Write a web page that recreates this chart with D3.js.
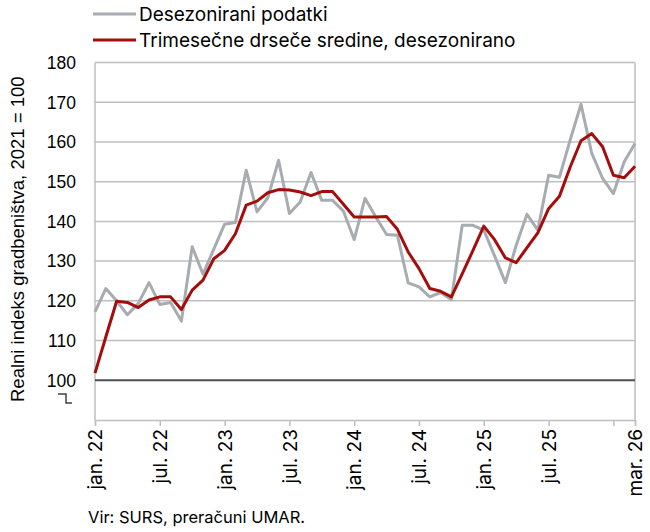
<!DOCTYPE html>
<html>
<head>
<meta charset="utf-8">
<script src="https://cdn.jsdelivr.net/npm/d3@7"></script>
<style>
  body { margin: 0; background: #fff; }
  svg text { fill: #000; }
</style>
</head>
<body>
<div id="chart"></div>
<script>
// monthly data, jan. 22 - mar. 26
var seriesNames = ["Desezonirani podatki", "Trimesečne drseče sredine, desezonirano"];

var desezonirani = [117.2, 123.1, 120.0, 116.5, 119.3, 124.6, 119.1, 119.6, 114.9, 133.6,
    126.7, 133.0, 139.3, 139.7, 152.9, 142.4, 145.9, 155.4, 142.0, 144.9,
    152.3, 145.3, 145.3, 142.6, 135.4, 145.8, 141.1, 136.7, 136.5, 124.5,
    123.5, 121.0, 122.1, 120.3, 139.0, 139.0, 137.8, 131.3, 124.6, 134.0,
    141.8, 137.8, 151.6, 151.1, 160.5, 169.5, 157.1, 150.8, 147.0, 155.0, 159.6];

var drsece = [101.8, 110.9, 119.9, 119.6, 118.3, 120.2, 121.0, 121.0, 117.8, 122.7,
    125.2, 130.6, 132.7, 136.9, 144.1, 145.1, 147.2, 148.0, 147.9, 147.4,
    146.5, 147.5, 147.5, 144.3, 141.1, 141.1, 141.1, 141.2, 138.0, 132.3,
    128.1, 123.1, 122.4, 121.0, 126.8, 132.7, 138.8, 135.4, 130.8, 129.6,
    133.4, 137.1, 143.2, 146.3, 153.7, 160.3, 162.1, 158.8, 151.6, 151.0, 153.9];

var monthNames = ["jan.", "feb.", "mar.", "apr.", "maj.", "jun.", "jul.", "avg.", "sep.", "okt.", "nov.", "dec."];
var months = d3.timeMonth.range(new Date(2022, 0, 1), new Date(2026, 3, 1));

// ticks every 6 months plus the last month; jan. 26 has a tick but no label
var tickMonths = ["jan. 22", "jul. 22", "jan. 23", "jul. 23", "jan. 24", "jul. 24", "jan. 25", "jul. 25", "jan. 26", "mar. 26"];
var hiddenLabels = ["jan. 26"];
var yTicks = [100, 110, 120, 130, 140, 150, 160, 170, 180];

function monthLabel(d) {
    return monthNames[d.getMonth()] + " " + String(d.getFullYear()).slice(2);
}

var W = 650, H = 532;
var margin = { top: 62.5, right: 15, bottom: 112, left: 95 },
    width = W - margin.left - margin.right,
    height = H - margin.top - margin.bottom;

var svg = d3.select("#chart").append("svg")
    .attr("width", W)
    .attr("height", H);

var g = svg.append("g")
    .attr("transform", "translate(" + margin.left + "," + margin.top + ")");

var x = d3.scalePoint()
    .domain(months.map(monthLabel))
    .range([0, width]);

var y = d3.scaleLinear()
    .domain([90, 180])
    .range([height, 0]);

// gridlines
g.selectAll(".grid")
    .data(yTicks.filter(function (d) { return d != 100; }))
    .enter().append("line")
    .attr("x1", 0).attr("x2", width)
    .attr("y1", function (d) { return y(d); })
    .attr("y2", function (d) { return y(d); })
    .style("stroke", "#bfbfbf")
    .style("stroke-width", 1.5);

// plot border left/right
g.append("line").attr("x1", 0).attr("x2", 0).attr("y1", 0).attr("y2", height)
    .style("stroke", "#bfbfbf").style("stroke-width", 1.5);
g.append("line").attr("x1", width).attr("x2", width).attr("y1", 0).attr("y2", height)
    .style("stroke", "#bfbfbf").style("stroke-width", 1.5);

// y labels
g.selectAll(".ylab")
    .data(yTicks)
    .enter().append("text")
    .attr("x", -19)
    .attr("y", function (d) { return y(d); })
    .attr("dy", "0.36em")
    .attr("text-anchor", "end")
    .style("font-family", "Liberation Sans, Arial, sans-serif")
    .style("font-size", "17.5px")
    .text(function (d) { return d; });

// axis break mark in place of 90
g.append("path")
    .attr("d", "M" + (-37) + "," + (y(90) - 26) + "h8v9h6")
    .style("fill", "none")
    .style("stroke", "#404040")
    .style("stroke-width", 1.5);

// x axis
var xAxis = g.append("g")
    .attr("transform", "translate(0," + height + ")")
    .call(d3.axisBottom(x)
        .tickValues(tickMonths)
        .tickFormat(function (d) { return hiddenLabels.indexOf(d) >= 0 ? "" : d; })
        .tickSize(6)
        .tickPadding(8));
xAxis.select(".domain").style("stroke", "#bfbfbf").style("stroke-width", 1.5);
xAxis.selectAll(".tick line").style("stroke", "#bfbfbf").style("stroke-width", 1.5);
xAxis.selectAll("text")
    .style("font-family", "Inter, sans-serif")
    .style("font-size", "19px")
    .style("fill", "#000")
    .style("text-anchor", "end")
    .attr("x", -9)
    .attr("y", 0)
    .attr("dy", "0.35em")
    .attr("transform", "rotate(-90)");

// 100 line
g.append("line")
    .attr("x1", 0).attr("x2", width)
    .attr("y1", y(100)).attr("y2", y(100))
    .style("stroke", "#4a4f55")
    .style("stroke-width", 2);

var line = d3.line()
    .x(function (d, i) { return x(monthLabel(months[i])); })
    .y(function (d) { return y(d); });

g.append("path")
    .datum(desezonirani)
    .attr("d", line)
    .style("fill", "none")
    .style("stroke", "#a7acb1")
    .style("stroke-width", 3)
    .style("stroke-linejoin", "round");

g.append("path")
    .datum(drsece)
    .attr("d", line)
    .style("fill", "none")
    .style("stroke", "#a50d0d")
    .style("stroke-width", 3)
    .style("stroke-linejoin", "round");

// y title
svg.append("text")
    .attr("transform", "translate(24," + (margin.top + height / 2 - 2) + ") rotate(-90)")
    .attr("text-anchor", "middle")
    .style("font-family", "Liberation Sans, Arial, sans-serif")
    .style("font-size", "18.5px")
    .text("Realni indeks gradbeništva, 2021 = 100");

// legend
var legColors = ["#a7acb1", "#a50d0d"];
var leg = svg.selectAll(".leg")
    .data(seriesNames)
    .enter().append("g")
    .attr("transform", function (d, i) { return "translate(93," + (14 + i * 26) + ")"; });
leg.append("line")
    .attr("x1", 0).attr("x2", 43)
    .style("stroke", function (d, i) { return legColors[i]; })
    .style("stroke-width", 3);
leg.append("text")
    .attr("x", 46)
    .attr("dy", "0.35em")
    .style("font-family", "Inter, sans-serif")
    .style("font-size", "19px")
    .text(function (d) { return d; });

// source
svg.append("text")
    .attr("x", 88)
    .attr("y", 523)
    .style("font-family", "Inter, sans-serif")
    .style("font-size", "16.5px")
    .text("Vir: SURS, preračuni UMAR.");
</script>
</body>
</html>
